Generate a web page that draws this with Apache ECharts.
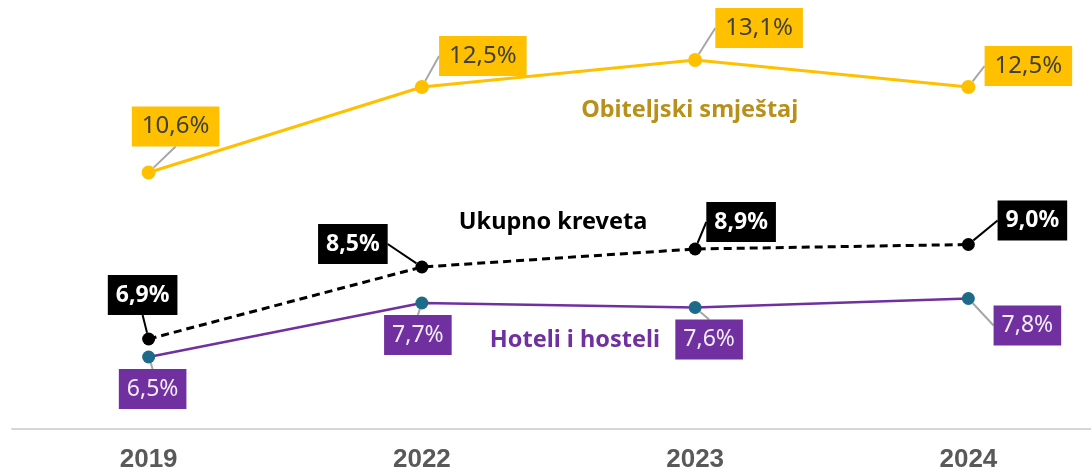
<!doctype html>
<html>
<head>
<meta charset="utf-8">
<title>Kreveti</title>
<script src="https://cdn.jsdelivr.net/npm/echarts@6/dist/echarts.min.js"></script>
<style>
  html, body { margin: 0; padding: 0; background: #fff; }
  #main { width: 1091px; height: 473px; }
</style>
</head>
<body>
<div id="main"></div>
<script type="text/javascript">
// podaci
var years = ['2019', '2022', '2023', '2024'];
var obiteljski = [10.6, 12.5, 13.1, 12.5];
var ukupno = [6.9, 8.5, 8.9, 9.0];
var hoteli = [6.5, 7.7, 7.6, 7.8];
var names = ['Obiteljski smještaj', 'Ukupno kreveta', 'Hoteli i hosteli'];

// pomaci natpisa od tocke (px)
var offsets = [
  [[27, -46], [61, -31], [64, -32], [60, -21]],
  [[-6, -44], [-69, -23], [46, -27], [64, -24]],
  [[4, 32], [-4, 32], [14, 32], [59, 27]]
];

var font = '"Noto Sans", "Open Sans", sans-serif';

function fmt(p) {
  return p.value.toFixed(1).replace('.', ',') + '%';
}

function layoutFor(si) {
  return function (params) {
    var o = offsets[si][params.dataIndex];
    return { dx: o[0], dy: o[1] };
  };
}

var myChart = echarts.init(document.getElementById('main'));

var option = {
  animation: false,
  grid: { left: 12, right: -14, top: 19.5, bottom: 44, outerBoundsMode: 'none' },
  xAxis: {
    type: 'category',
    data: years,
    axisLine: { lineStyle: { color: '#D6D6D6', width: 2 } },
    axisTick: { show: false },
    axisLabel: {
      color: '#595959',
      fontSize: 26,
      fontWeight: 'bold',
      fontFamily: '"Liberation Sans", Arial, sans-serif',
      margin: 18
    }
  },
  yAxis: { type: 'value', min: 4.9, max: 14, show: false, splitLine: { show: false } },
  series: [
    {
      name: names[0],
      type: 'line',
      data: obiteljski,
      z: 3,
      symbol: 'circle',
      symbolSize: 14,
      itemStyle: { color: '#FFC000' },
      lineStyle: { color: '#FFC000', width: 3 },
      label: {
        show: true, position: 'inside', formatter: fmt,
        backgroundColor: '#FFC000', color: '#404040',
        fontSize: 24, fontFamily: font, padding: [6, 10], lineHeight: 28
      },
      labelLine: { show: true, lineStyle: { color: '#A6A6A6', width: 2 } },
      labelLayout: layoutFor(0)
    },
    {
      name: names[1],
      type: 'line',
      data: ukupno,
      z: 3,
      symbol: 'circle',
      symbolSize: 13,
      itemStyle: { color: '#000000' },
      lineStyle: { color: '#000000', width: 3, type: [8, 5] },
      label: {
        show: true, position: 'inside', formatter: fmt,
        backgroundColor: '#000000', color: '#FFFFFF', fontWeight: 'bold',
        fontSize: 23, fontFamily: font, padding: [6, 8], lineHeight: 28
      },
      labelLine: { show: true, lineStyle: { color: '#000000', width: 2 } },
      labelLayout: layoutFor(1)
    },
    {
      name: names[2],
      type: 'line',
      data: hoteli,
      z: 3,
      symbol: 'circle',
      symbolSize: 13,
      itemStyle: { color: '#1D6A89' },
      lineStyle: { color: '#7030A0', width: 2.5 },
      label: {
        show: true, position: 'inside', formatter: fmt,
        backgroundColor: '#7030A0', color: '#F2ECF7',
        fontSize: 23, fontFamily: font, padding: [6, 8], lineHeight: 28
      },
      labelLine: { show: true, lineStyle: { color: '#A6A6A6', width: 2 } },
      labelLayout: layoutFor(2)
    }
  ]
};

myChart.setOption(option);

// nazivi serija uz linije (indeks kategorije moze biti razlomak)
var namePos = [[1.98, 11.99], [1.48, 9.5], [1.56, 6.86]];
var nameColors = ['#B8901A', '#000000', '#7030A0'];
function toPixel(xi, v) {
  var i0 = Math.floor(xi), t = xi - i0;
  var a = myChart.convertToPixel({ gridIndex: 0 }, [i0, v]);
  var b = myChart.convertToPixel({ gridIndex: 0 }, [i0 + 1, v]);
  return [a[0] + (b[0] - a[0]) * t, a[1]];
}
var texts = names.map(function (n, i) {
  var p = toPixel(namePos[i][0], namePos[i][1]);
  return {
    type: 'text',
    x: p[0], y: p[1],
    style: {
      text: n, fill: nameColors[i], fontSize: 23.5, fontWeight: 'bold',
      fontFamily: font, align: 'center', verticalAlign: 'middle'
    }
  };
});
myChart.setOption({ graphic: texts });
</script>
</body>
</html>
